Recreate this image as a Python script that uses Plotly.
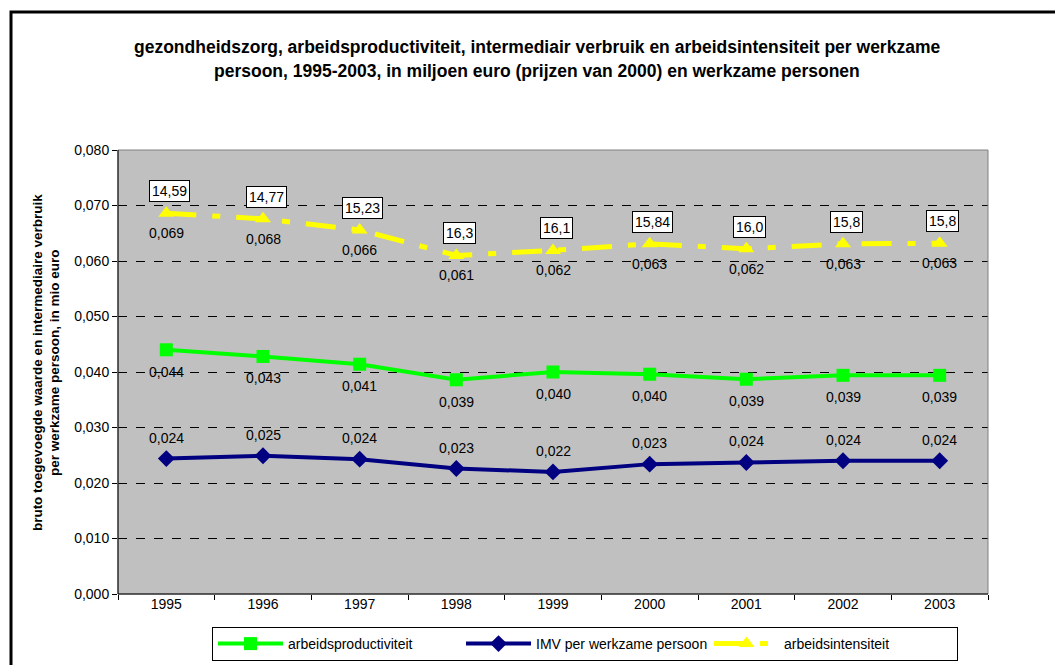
import plotly.graph_objects as go

years = ["1995", "1996", "1997", "1998", "1999", "2000", "2001", "2002", "2003"]
arbeidsproductiviteit = [0.0440, 0.0428, 0.0414, 0.0386, 0.0400, 0.0396, 0.0387, 0.0394, 0.0394]
imv_per_werkzame_persoon = [0.0244, 0.0249, 0.0243, 0.0226, 0.0220, 0.0234, 0.0237, 0.0240, 0.0240]
arbeidsintensiteit = [0.0686, 0.0676, 0.0656, 0.0610, 0.0619, 0.0631, 0.0622, 0.0631, 0.0632]
werkzame_personen_labels = ["14,59", "14,77", "15,23", "16,3", "16,1", "15,84", "16,0", "15,8", "15,8"]
y_ticks = [0.0, 0.01, 0.02, 0.03, 0.04, 0.05, 0.06, 0.07, 0.08]

FONT = "Arial"


def fmt(v):
    return f"{v:.3f}".replace(".", ",")


fig = go.Figure()
fig.add_trace(go.Scatter(
    x=years, y=arbeidsproductiviteit, name="arbeidsproductiviteit",
    mode="lines+markers", line=dict(color="#00ff00", width=4),
    marker=dict(symbol="square", size=13, color="#00ff00")))
fig.add_trace(go.Scatter(
    x=years, y=imv_per_werkzame_persoon, name="IMV per werkzame persoon",
    mode="lines+markers", line=dict(color="#000080", width=4),
    marker=dict(symbol="diamond", size=13, color="#000080")))
fig.add_trace(go.Scatter(
    x=years, y=arbeidsintensiteit, name="arbeidsintensiteit",
    mode="lines+markers", line=dict(color="#ffff00", width=5, dash="30px,16px,8px,16px"),
    marker=dict(symbol="triangle-up", size=14, color="#ffff00")))

annotations = []
for i, v in enumerate(arbeidsproductiviteit):
    annotations.append(dict(x=i, y=v, text=fmt(v), showarrow=False, yshift=-22,
                            font=dict(family=FONT, size=14, color="black")))
for i, v in enumerate(imv_per_werkzame_persoon):
    annotations.append(dict(x=i, y=v, text=fmt(v), showarrow=False, yshift=21,
                            font=dict(family=FONT, size=14, color="black")))
for i, v in enumerate(arbeidsintensiteit):
    annotations.append(dict(x=i, y=v, text=fmt(v), showarrow=False, yshift=-20,
                            font=dict(family=FONT, size=14, color="black")))
for i, (v, lab) in enumerate(zip(arbeidsintensiteit, werkzame_personen_labels)):
    annotations.append(dict(x=i, y=v, text=lab, showarrow=False, yshift=22, xshift=3,
                            bgcolor="white", bordercolor="black", borderwidth=1, borderpad=2,
                            font=dict(family=FONT, size=14, color="black")))

# title (two lines)
annotations.append(dict(xref="paper", yref="paper", x=(537 - 118) / 870, y=(594 - 47) / 444,
                        text="<b>gezondheidszorg, arbeidsproductiviteit, intermediair verbruik en arbeidsintensiteit per werkzame</b>",
                        showarrow=False, xanchor="center", yanchor="middle",
                        font=dict(family=FONT, size=17.5, color="black")))
annotations.append(dict(xref="paper", yref="paper", x=(537 - 118) / 870, y=(594 - 71) / 444,
                        text="<b>persoon, 1995-2003, in miljoen euro (prijzen van 2000) en werkzame personen</b>",
                        showarrow=False, xanchor="center", yanchor="middle",
                        font=dict(family=FONT, size=17.5, color="black")))
# y axis title
annotations.append(dict(xref="paper", yref="paper", x=(46 - 118) / 870, y=0.52,
                        text="<b>bruto toegevoegde waarde en intermediaire verbruik<br>per werkzame persoon, in mio euro</b>",
                        showarrow=False, textangle=-90, xanchor="center", yanchor="middle",
                        font=dict(family=FONT, size=13.5, color="black")))

shapes = [
    dict(type="rect", xref="paper", yref="paper", x0=0, y0=0, x1=1, y1=1,
         line=dict(color="#808080", width=1), fillcolor="rgba(0,0,0,0)", layer="above"),
    dict(type="line", xref="paper", yref="paper", x0=0, y0=0, x1=0, y1=1,
         line=dict(color="black", width=1), layer="above"),
    dict(type="line", xref="paper", yref="paper", x0=0, y0=0, x1=1, y1=0,
         line=dict(color="black", width=1), layer="above"),
    dict(type="rect", xref="paper", yref="paper", x0=(11 - 118) / 870, y0=-0.3,
         x1=1.3, y1=(594 - 12) / 444,
         line=dict(color="black", width=3), fillcolor="rgba(0,0,0,0)", layer="above"),
]

fig.update_layout(
    width=1055, height=665,
    margin=dict(l=118, r=67, t=150, b=71, autoexpand=False),
    paper_bgcolor="white", plot_bgcolor="#c0c0c0",
    separators=",.",
    font=dict(family=FONT, size=12, color="black"),
    showlegend=True,
    legend=dict(orientation="h", x=(212 - 118) / 870, y=(594 - 661) / 444,
                xanchor="left", yanchor="bottom", bgcolor="white",
                bordercolor="black", borderwidth=1,
                font=dict(family=FONT, size=14, color="black"),
                itemwidth=65, entrywidth=168, entrywidthmode="pixels",
                traceorder="normal"),
    annotations=annotations, shapes=shapes,
)
fig.update_xaxes(type="category", categoryorder="array", categoryarray=years,
                 tickson="boundaries", ticks="outside", ticklen=5, tickangle=0,
                 tickcolor="black", showline=False, showgrid=False, zeroline=False,
                 range=[-0.5, len(years) - 0.5],
                 tickfont=dict(family=FONT, size=14, color="black"))
fig.update_yaxes(range=[0, 0.08], tickvals=y_ticks, tickformat=".3f", ticks="outside",
                 ticklen=5, tickcolor="black", showline=False, showgrid=True,
                 gridcolor="black", griddash="dash", gridwidth=1, zeroline=False,
                 tickfont=dict(family=FONT, size=14, color="black"))

fig.write_html("out.html", config={"displayModeBar": False},
               post_script="document.body.style.margin='0';")
